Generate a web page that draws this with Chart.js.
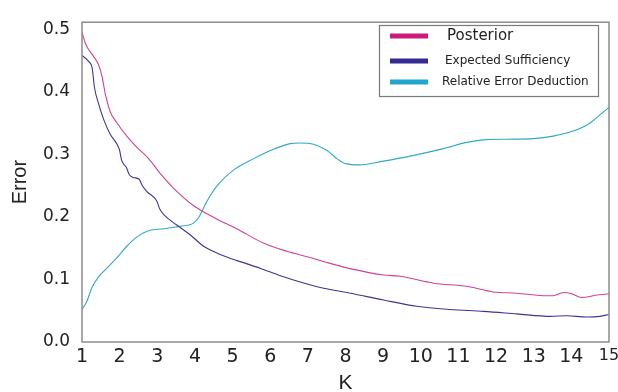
<!DOCTYPE html>
<html lang="en">
<head>
    <meta charset="UTF-8">
    <title>Error vs K</title>
    <style>
        body {
            margin: 0;
            background: #ffffff;
        }
        #wrap {
            width: 618px;
            height: 392px;
        }
    </style>
</head>
<body>
    <div id="wrap">
        <canvas id="errChart" width="618" height="392"></canvas>
    </div>
    <script src="https://cdn.jsdelivr.net/npm/chart.js"></script>
    <script>
        // values
        const kTicks = [1, 2, 3, 4, 5, 6, 7, 8, 9, 10, 11, 12, 13, 14, 15];
        const errTicks = [0.0, 0.1, 0.2, 0.3, 0.4, 0.5];

        const seriesNames = ['Posterior', 'Expected Sufficiency', 'Relative Error Deduction'];

        const posteriorK = [1, 1.09, 1.31, 1.44, 1.53, 1.62, 1.75, 1.93, 2.19, 2.46, 2.77, 3.08, 3.43, 3.96, 4.50, 5.11, 5.82, 6.44, 7.06, 7.51, 8.21, 9.01, 9.45, 10.34, 11.22, 11.93, 12.55, 13.26, 13.52, 13.79, 13.97, 14.28, 14.67, 15];
        const posteriorErr = [0.495, 0.477, 0.456, 0.443, 0.425, 0.396, 0.368, 0.350, 0.329, 0.311, 0.293, 0.269, 0.246, 0.218, 0.199, 0.181, 0.158, 0.145, 0.135, 0.127, 0.116, 0.107, 0.105, 0.094, 0.089, 0.080, 0.078, 0.074, 0.074, 0.079, 0.078, 0.071, 0.075, 0.077];

        const sufficiencyK = [1, 1.18, 1.27, 1.33, 1.44, 1.58, 1.75, 1.93, 2.0, 2.05, 2.11, 2.18, 2.25, 2.36, 2.52, 2.60, 2.73, 2.98, 3.07, 3.2, 3.4, 3.61, 3.88, 4.23, 4.67, 5.12, 5.73, 6.27, 6.80, 7.33, 8.13, 9.01, 9.90, 10.78, 11.67, 12.55, 13.44, 13.88, 14.41, 14.76, 15];
        const sufficiencyErr = [0.458, 0.448, 0.438, 0.407, 0.381, 0.355, 0.332, 0.316, 0.306, 0.291, 0.284, 0.279, 0.268, 0.263, 0.260, 0.250, 0.240, 0.226, 0.212, 0.202, 0.192, 0.183, 0.171, 0.153, 0.140, 0.130, 0.118, 0.106, 0.096, 0.087, 0.078, 0.067, 0.057, 0.052, 0.049, 0.045, 0.041, 0.042, 0.040, 0.041, 0.044];

        const deductionK = [1, 1.13, 1.27, 1.44, 1.66, 1.93, 2.19, 2.46, 2.73, 3.17, 3.61, 3.96, 4.10, 4.32, 4.58, 5.03, 5.56, 6.09, 6.53, 6.80, 7.15, 7.51, 7.77, 8.0, 8.39, 9.01, 9.72, 10.60, 11.22, 11.67, 12.28, 12.99, 13.52, 14.05, 14.50, 14.76, 15];
        const deductionErr = [0.052, 0.065, 0.088, 0.104, 0.118, 0.135, 0.153, 0.168, 0.177, 0.181, 0.185, 0.190, 0.199, 0.225, 0.249, 0.275, 0.293, 0.308, 0.317, 0.318, 0.316, 0.306, 0.293, 0.285, 0.283, 0.289, 0.297, 0.309, 0.319, 0.323, 0.324, 0.325, 0.329, 0.337, 0.350, 0.363, 0.375];

        const lineColors = ['#d2438f', '#3d3791', '#2eaac2'];
        const swatchColors = ['#cc1a7a', '#332a92', '#1ea6d0'];

        function toPoints(xs, ys) {
            return xs.map((x, i) => ({ x: x, y: ys[i] }));
        }

        // grey box round the plot area
        const framePlugin = {
            id: 'frame',
            afterDatasetsDraw(chart) {
                const a = chart.chartArea;
                const ctx = chart.ctx;
                ctx.save();
                ctx.strokeStyle = '#8c8c8c';
                ctx.lineWidth = 1.5;
                ctx.strokeRect(a.left, a.top, a.right - a.left, a.bottom - a.top);
                ctx.restore();
            }
        };

        // legend box in the top right corner, drawn by hand
        const boxLegend = {
            id: 'boxLegend',
            afterDraw(chart) {
                const ctx = chart.ctx;
                const rows = [
                    { y: 36, tx: 447, font: '15px "DejaVu Sans"' },
                    { y: 61, tx: 445, font: '12px "DejaVu Sans"' },
                    { y: 82, tx: 442, font: '12px "DejaVu Sans"' }
                ];
                ctx.save();
                ctx.strokeStyle = '#7a7a7a';
                ctx.lineWidth = 1.2;
                ctx.strokeRect(379.5, 25.5, 219, 71);
                chart.data.datasets.forEach((ds, i) => {
                    const r = rows[i];
                    ctx.fillStyle = swatchColors[i];
                    ctx.fillRect(390, r.y - 2.5, 38, 5);
                    ctx.fillStyle = '#222222';
                    ctx.font = r.font;
                    ctx.textBaseline = 'middle';
                    ctx.textAlign = 'left';
                    ctx.fillText(ds.label, r.tx, r.y);
                });
                ctx.restore();
            }
        };

        const ctx = document.getElementById('errChart').getContext('2d');
        new Chart(ctx, {
            type: 'line',
            data: {
                datasets: [
                    {
                        label: seriesNames[0],
                        data: toPoints(posteriorK, posteriorErr),
                        borderColor: lineColors[0],
                        borderWidth: 1.1,
                        pointRadius: 0,
                        cubicInterpolationMode: 'monotone'
                    },
                    {
                        label: seriesNames[1],
                        data: toPoints(sufficiencyK, sufficiencyErr),
                        borderColor: lineColors[1],
                        borderWidth: 1.1,
                        pointRadius: 0,
                        cubicInterpolationMode: 'monotone'
                    },
                    {
                        label: seriesNames[2],
                        data: toPoints(deductionK, deductionErr),
                        borderColor: lineColors[2],
                        borderWidth: 1.1,
                        pointRadius: 0,
                        cubicInterpolationMode: 'monotone'
                    }
                ]
            },
            options: {
                responsive: false,
                animation: false,
                devicePixelRatio: 1,
                layout: {
                    padding: { top: 13, right: 9, bottom: 0, left: 0 }
                },
                scales: {
                    x: {
                        type: 'linear',
                        min: 1,
                        max: 15,
                        afterBuildTicks: function(scale) {
                            scale.ticks = kTicks.map(v => ({ value: v }));
                        },
                        afterFit: function(scale) {
                            scale.height = 50;
                            scale.paddingLeft = 0;
                            scale.paddingRight = 0;
                        },
                        grid: { display: false, drawTicks: false },
                        border: { display: false },
                        ticks: {
                            padding: 4,
                            color: '#222222',
                            maxRotation: 0,
                            autoSkip: false,
                            font: function(c) {
                                const big = c.tick && c.tick.value === 15;
                                return { family: '"DejaVu Sans"', size: big ? 16 : 19 };
                            }
                        },
                        title: {
                            display: true,
                            text: 'K',
                            color: '#222222',
                            font: { family: '"Liberation Sans", Arial', size: 21, lineHeight: 1 },
                            padding: { top: 0, bottom: -2 }
                        }
                    },
                    y: {
                        min: 0,
                        max: 0.511,
                        afterBuildTicks: function(scale) {
                            scale.ticks = errTicks.map(v => ({ value: v }));
                        },
                        afterFit: function(scale) {
                            scale.width = 82;
                        },
                        grid: { display: false, drawTicks: false },
                        border: { display: false },
                        ticks: {
                            padding: 12,
                            color: '#222222',
                            font: { family: '"DejaVu Sans"', size: 17 },
                            callback: function(value) {
                                return value.toFixed(1);
                            }
                        },
                        title: {
                            display: true,
                            text: 'Error',
                            color: '#222222',
                            font: { family: '"Liberation Sans", Arial', size: 20, lineHeight: 1 },
                            padding: { top: 10, bottom: 0 }
                        }
                    }
                },
                plugins: {
                    legend: { display: false },
                    tooltip: { enabled: false }
                }
            },
            plugins: [framePlugin, boxLegend]
        });
    </script>
</body>
</html>
